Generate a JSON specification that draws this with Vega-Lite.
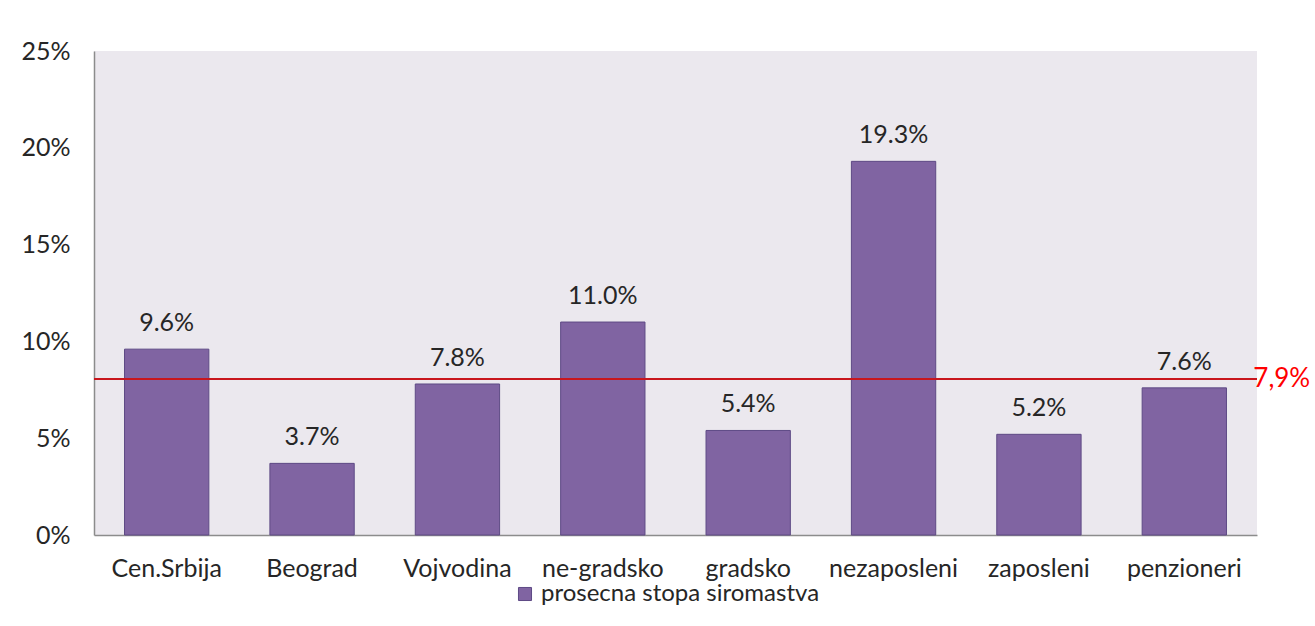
{
  "$schema": "https://vega.github.io/schema/vega-lite/v6.json",
  "width": 1163,
  "height": 484,
  "autosize": {"type": "none"},
  "padding": {"left": 94, "top": 51, "right": 58, "bottom": 91},
  "background": "white",
  "config": {
    "font": "Lato",
    "view": {"fill": "#EBE8EE", "stroke": null},
    "axis": {"labelFont": "Lato", "labelColor": "#262626", "labelFontSize": 25, "grid": false, "ticks": false, "domainColor": "#8C8C8C", "domainWidth": 1.5, "title": null}
  },
  "data": {"values": [
    {"cat": "Cen.Srbija", "v": 0.096, "s": "prosecna stopa siromastva"},
    {"cat": "Beograd", "v": 0.037, "s": "prosecna stopa siromastva"},
    {"cat": "Vojvodina", "v": 0.078, "s": "prosecna stopa siromastva"},
    {"cat": "ne-gradsko", "v": 0.110, "s": "prosecna stopa siromastva"},
    {"cat": "gradsko", "v": 0.054, "s": "prosecna stopa siromastva"},
    {"cat": "nezaposleni", "v": 0.193, "s": "prosecna stopa siromastva"},
    {"cat": "zaposleni", "v": 0.052, "s": "prosecna stopa siromastva"},
    {"cat": "penzioneri", "v": 0.076, "s": "prosecna stopa siromastva"}
  ]},
  "encoding": {
    "x": {"field": "cat", "type": "nominal", "sort": null,
      "scale": {"paddingInner": 0.42, "paddingOuter": 0.21},
      "axis": {"labelAngle": 0, "labelPadding": 21, "labelLimit": 0}},
    "y": {"field": "v", "type": "quantitative",
      "scale": {"domain": [0, 0.25]},
      "axis": {"values": [0, 0.05, 0.1, 0.15, 0.2, 0.25], "format": ".0%", "labelPadding": 24}}
  },
  "layer": [
    {
      "mark": {"type": "bar", "stroke": "#5E4A85", "strokeWidth": 1},
      "encoding": {
        "color": {"field": "s", "type": "nominal", "scale": {"range": ["#8064A2"]},
          "legend": {"orient": "none", "legendX": 419, "legendY": 531, "direction": "horizontal", "title": null, "symbolType": "square", "symbolSize": 170, "symbolStrokeColor": "#5E4A85", "symbolStrokeWidth": 1, "labelFontSize": 24, "labelColor": "#262626", "labelFont": "Lato", "labelLimit": 0, "labelOffset": 4}}
      }
    },
    {
      "mark": {"type": "text", "baseline": "alphabetic", "dy": -18, "fontSize": 25, "color": "#262626"},
      "encoding": {"text": {"field": "v", "type": "quantitative", "format": ".1%"}}
    },
    {
      "data": {"values": [{"avg": 0.0806, "lbl": "7,9%", "cat": "penzioneri"}]},
      "layer": [
        {
          "mark": {"type": "rule", "color": "#C8161D", "strokeWidth": 2},
          "encoding": {"y": {"field": "avg", "type": "quantitative"}, "x": null}
        },
        {
          "mark": {"type": "text", "align": "left", "baseline": "middle", "dx": 69, "fontSize": 26, "color": "#FF0000"},
          "encoding": {"y": {"field": "avg", "type": "quantitative"}, "x": {"field": "cat", "type": "nominal"}, "text": {"field": "lbl"}}
        }
      ]
    }
  ]
}
